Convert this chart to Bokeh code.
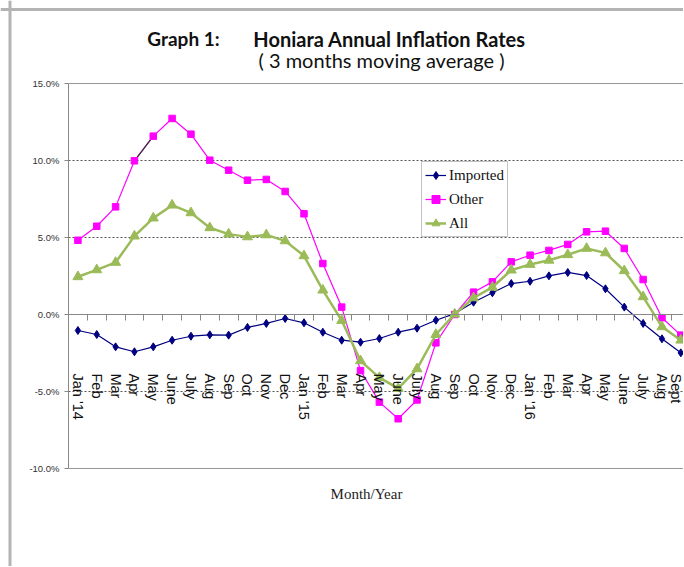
import math
from bokeh.plotting import figure
from bokeh.models import (ColumnDataSource, Range1d, LinearAxis, FixedTicker, PrintfTickFormatter,
                          CustomJSTickFormatter, Grid, Label, Legend, LegendItem, Span)
from bokeh.embed import file_html
from bokeh.resources import INLINE

months = ["Jan '14", "Feb", "Mar", "Apr", "May", "June", "July", "Aug", "Sep", "Oct", "Nov", "Dec",
          "Jan '15", "Feb", "Mar", "Apr", "May", "June", "July", "Aug", "Sep", "Oct", "Nov", "Dec",
          "Jan '16", "Feb", "Mar", "Apr", "May", "June", "July", "Aug", "Sept"]

imported = [-1.04, -1.30, -2.10, -2.42, -2.10, -1.67, -1.41, -1.32, -1.34, -0.84, -0.58, -0.26,
            -0.54, -1.15, -1.67, -1.80, -1.56, -1.15, -0.89, -0.37, 0.06, 0.80, 1.41, 2.01,
            2.16, 2.51, 2.73, 2.53, 1.67, 0.48, -0.58, -1.58, -2.49]
other = [4.82, 5.73, 6.99, 9.98, 11.58, 12.73, 11.71, 10.02, 9.37, 8.72, 8.77, 7.99,
         6.54, 3.31, 0.48, -3.64, -5.69, -6.77, -5.55, -1.84, 0.0, 1.45, 2.12, 3.42,
         3.85, 4.16, 4.55, 5.37, 5.41, 4.29, 2.27, -0.21, -1.34]
all_items = [2.45, 2.90, 3.38, 5.09, 6.26, 7.10, 6.60, 5.63, 5.22, 5.04, 5.17, 4.78,
             3.81, 1.58, -0.39, -3.01, -4.10, -4.80, -3.53, -1.30, 0.02, 1.08, 1.77, 2.88,
             3.25, 3.52, 3.88, 4.29, 4.00, 2.84, 1.15, -0.80, -1.67]

y_ticks = [-10, -5, 0, 5, 10, 15]
dotted_grid = [-5, 5, 10]
solid_grid = [-10, 15]

n = len(months)
xs = list(range(n))
src = ColumnDataSource(dict(x=xs, imported=imported, other=other, all=all_items))

W, H = 683, 566
p = figure(width=W, height=H, output_backend="svg", toolbar_location=None,
           x_range=Range1d(-4.109, 32.143), y_range=Range1d(-16.364, 20.390),
           x_axis_type=None, y_axis_type=None,
           min_border_left=0, min_border_top=0, min_border_bottom=0, min_border_right=0)
p.outline_line_color = None
p.background_fill_color = "white"
p.border_fill_color = "white"

# outer chart border (screenshot frame)
p.add_layout(Span(location=-3.605, dimension="height", line_color="#b4b4b4", line_width=3))
p.add_layout(Span(location=19.805, dimension="width", line_color="#b4b4b4", line_width=3))

# grids
p.add_layout(Grid(dimension=1, ticker=FixedTicker(ticks=dotted_grid), cross_bounds=(-0.5, 33),
                  grid_line_color="#555555", grid_line_dash="2 2", grid_line_width=1))
p.add_layout(Grid(dimension=1, ticker=FixedTicker(ticks=solid_grid), cross_bounds=(-0.5, 33),
                  grid_line_color="#999999", grid_line_width=1))

# y axis
yaxis = LinearAxis(fixed_location=-0.5, bounds=(-10, 15),
                   ticker=FixedTicker(ticks=y_ticks), formatter=PrintfTickFormatter(format="%.1f%%"),
                   axis_line_color="#888888", major_tick_line_color="#888888",
                   major_tick_in=0, major_tick_out=4, minor_tick_line_color=None,
                   major_label_standoff=5, major_label_text_font="Liberation Sans",
                   major_label_text_font_size="9.5px", major_label_text_color="#333333")
p.add_layout(yaxis, "left")

# x axis at zero (tick marks between categories)
xtick = LinearAxis(fixed_location=0, bounds=(-0.5, 33),
                   ticker=FixedTicker(ticks=[i - 0.5 for i in range(n + 1)]),
                   formatter=CustomJSTickFormatter(code="return ''"),
                   axis_line_color="#888888", major_tick_line_color="#888888",
                   major_tick_in=0, major_tick_out=6, minor_tick_line_color=None,
                   major_label_standoff=0)
p.add_layout(xtick, "below")

# category labels
xlab = LinearAxis(fixed_location=-3.83, ticker=FixedTicker(ticks=xs),
                  major_label_overrides={i: m for i, m in enumerate(months)},
                  major_label_orientation=-math.pi / 2, major_label_standoff=0,
                  axis_line_color=None, major_tick_line_color=None, minor_tick_line_color=None,
                  major_tick_in=0, major_tick_out=0,
                  major_label_text_font="Liberation Sans", major_label_text_font_size="14.5px",
                  major_label_text_color="#111111")
p.add_layout(xlab, "below")

navy = "#000080"
magenta = "#FF00FF"
green = "#9BBB59"

l1 = p.line("x", "imported", source=src, line_color=navy, line_width=1.2)
m1 = p.scatter("x", "imported", source=src, marker="diamond", size=8, color=navy)
l2 = p.line("x", "other", source=src, line_color=magenta, line_width=1.2)
p.line(xs[3:5], other[3:5], line_color="#333333", line_width=1.2)
m2 = p.scatter("x", "other", source=src, marker="square", size=6.5, color=magenta)
l3 = p.line("x", "all", source=src, line_color=green, line_width=2.5)
m3 = p.scatter("x", "all", source=src, marker="triangle", size=10, color=green)

# frame spans the whole canvas; screen units are from frame left / bottom
legend = Legend(items=[LegendItem(label="Imported", renderers=[l1, m1]),
                       LegendItem(label="Other", renderers=[l2, m2]),
                       LegendItem(label="All", renderers=[l3, m3])],
                location=(421, 329), margin=0, padding=3, spacing=4,
                label_height=20, glyph_height=20, glyph_width=21, label_standoff=3,
                label_text_font="Liberation Serif", label_text_font_size="15px",
                label_text_color="#111111",
                border_line_color="#888888", border_line_width=1, background_fill_color="white")
p.add_layout(legend)

title_font = "Lato"
p.add_layout(Label(x=183, y=528, x_units="screen", y_units="screen", text="Graph 1:",
                   text_align="center", text_baseline="alphabetic", text_font=title_font,
                   text_font_style="bold", text_font_size="19px", text_color="#111111"))
p.add_layout(Label(x=389, y=528, x_units="screen", y_units="screen", text="Honiara Annual Inflation Rates",
                   text_align="center", text_baseline="alphabetic", text_font=title_font,
                   text_font_style="bold", text_font_size="20px", text_color="#111111"))
p.add_layout(Label(x=381, y=507, x_units="screen", y_units="screen", text="( 3 months moving average )",
                   text_align="center", text_baseline="alphabetic", text_font=title_font,
                   text_font_size="20px", text_color="#111111"))
p.add_layout(Label(x=366, y=73, x_units="screen", y_units="screen", text="Month/Year",
                   text_align="center", text_baseline="alphabetic", text_font="Liberation Serif",
                   text_font_size="15px", text_color="#222222"))

open("out.html", "w").write(file_html(p, INLINE))
